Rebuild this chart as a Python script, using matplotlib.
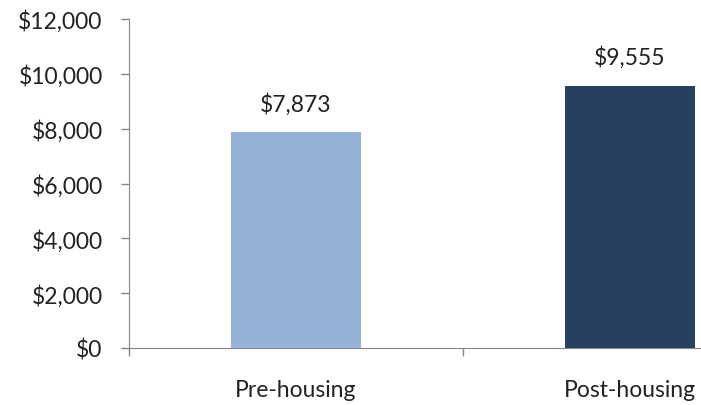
import matplotlib.pyplot as plt
import numpy as np

categories = ["Pre-housing", "Post-housing"]
values = [7873, 9555]
colors = ["#95B3D7", "#254061"]
yticks = [0, 2000, 4000, 6000, 8000, 10000, 12000]

plt.rcParams['font.family'] = ['Lato', 'DejaVu Sans']

fig = plt.figure(figsize=(7.01, 4.06), dpi=100)
# axes run past the right edge of the figure
ax = fig.add_axes([129 / 701, 57 / 406, 668 / 701, 329 / 406])

x = np.arange(len(categories))
bars = ax.bar(x, values, width=0.39, color=colors)
for b, v in zip(bars, values):
    ax.text(b.get_x() + b.get_width() / 2, v + 1060, f"${v:,}",
            ha='center', va='center', fontsize=16.5, color='#222222')

ax.set_xlim(-0.5, 1.5)
ax.set_ylim(0, 12000)
ax.set_yticks(yticks)
ax.set_yticklabels([f"${t:,}" for t in yticks], fontsize=16.5, color='#222222')
ax.set_xticks([-0.5, 0.5, 1.5])
ax.set_xticklabels([])
for xi, name in zip(x, categories):
    ax.text(xi, -1500, name, ha='center', va='center', fontsize=16.5, color='#222222')

for s in ['top', 'right']:
    ax.spines[s].set_visible(False)
for s in ['left', 'bottom']:
    ax.spines[s].set_color('#868686')
ax.tick_params(axis='both', direction='out', length=6, color='#868686', width=1)
ax.tick_params(axis='y', pad=13)

fig.savefig("out.png", dpi=100)
